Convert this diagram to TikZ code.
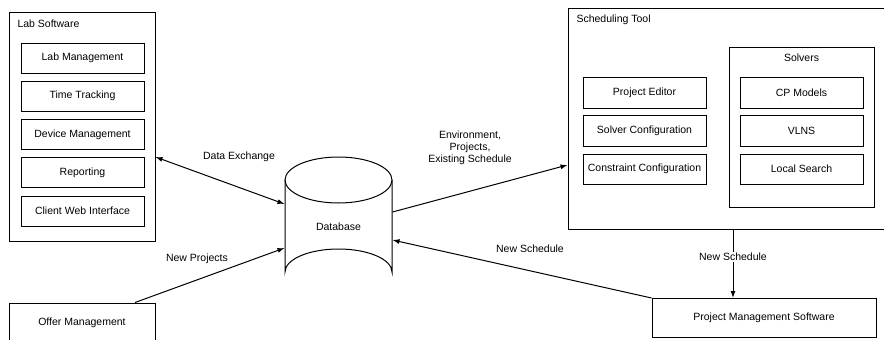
\documentclass[tikz,border=0pt]{standalone}
\usepackage{fontspec}
\setmainfont{Liberation Sans}
\usetikzlibrary{arrows.meta,calc}
\begin{document}
\begin{tikzpicture}[x=1pt,y=-1pt,
  line width=1pt,
  every node/.style={font=\fontsize{10.5}{12}\selectfont},
  box/.style={draw,rectangle,inner sep=0pt,align=center},
  arr/.style={-{Latex[length=7pt,width=5pt]}},
  lbl/.style={inner sep=1pt,align=center}]
\useasboundingbox (0,0) rectangle (884,340);

% Lab software group
\node[box,minimum width=146pt,minimum height=229pt] (lab) at (82,126.5) {};
\node[anchor=west,inner sep=0pt] (labt) at (17,24) {Lab Software};
\node[box,minimum width=123pt,minimum height=30pt] (lm) at (82.5,58) {Lab Management};
\node[box,minimum width=123pt,minimum height=30pt] (tt) at (82.5,96) {Time Tracking};
\node[box,minimum width=123pt,minimum height=30pt] (dm) at (82.5,134.5) {Device Management};
\node[box,minimum width=123pt,minimum height=30pt] (rp) at (82.5,172.5) {Reporting};
\node[box,minimum width=123pt,minimum height=30pt] (cw) at (82.5,211) {Client Web Interface};

% Offer management
\node[box,minimum width=146pt,minimum height=39pt] (om) at (82,322.5) {Offer Management};

% Database cylinder
\node[inner sep=0pt,minimum width=107pt,minimum height=138pt] (db) at (338.5,226) {};
\draw (285,180) -- (285,272) arc[start angle=180,end angle=360,x radius=53.5,y radius=23] -- (392,180);
\draw (338.5,180) ellipse[x radius=53.5,y radius=23];
\node (dbt) at (338.5,227) {Database};

% Scheduling tool group
\node[box,minimum width=322pt,minimum height=221pt] (st) at (729,118.5) {};
\node[anchor=west,inner sep=0pt] (stt) at (576,20) {Scheduling Tool};
\node[box,minimum width=123pt,minimum height=31pt] (pe) at (644.5,92.5) {Project Editor};
\node[box,minimum width=123pt,minimum height=31pt] (sc) at (644.5,130.5) {Solver Configuration};
\node[box,minimum width=123pt,minimum height=30pt] (cc) at (644.5,169) {Constraint Configuration};
\node[box,minimum width=145pt,minimum height=160pt] (sv) at (801.5,127) {};
\node (svt) at (801.5,58) {Solvers};
\node[box,minimum width=123pt,minimum height=31pt] (cp) at (801.5,92.5) {CP Models};
\node[box,minimum width=123pt,minimum height=31pt] (vl) at (801.5,130.5) {VLNS};
\node[box,minimum width=123pt,minimum height=30pt] (ls) at (801.5,169) {Local Search};

% Project management software
\node[box,minimum width=224pt,minimum height=39pt] (pm) at (764,318) {Project Management Software};

% Connectors
\draw[{Latex[length=7pt,width=5pt]}-{Latex[length=7pt,width=5pt]}]
  ([yshift=-30.5pt]lab.east) -- ([yshift=22pt]db.west);
\node[lbl] (dx) at (239,157) {Data Exchange};

\draw[arr] ([xshift=53pt]om.north) -- ([yshift=-22pt]db.west);
\node[lbl] (np) at (197,259) {New Projects};

\draw[arr] ([yshift=14pt]db.east) -- ([yshift=-46.5pt]st.west);
\node[lbl] (env) at (470,148) {Environment,\\Projects,\\Existing Schedule};

\draw[arr] (pm.north west) -- ([yshift=-14pt]db.east);
\node[lbl] (ns1) at (530,249) {New Schedule};

\coordinate (nsx) at (733,0);
\draw[arr] (nsx |- st.south) -- (nsx |- pm.north);
\node[lbl,fill=white] (ns2) at (733,257) {New Schedule};
\end{tikzpicture}
\end{document}
